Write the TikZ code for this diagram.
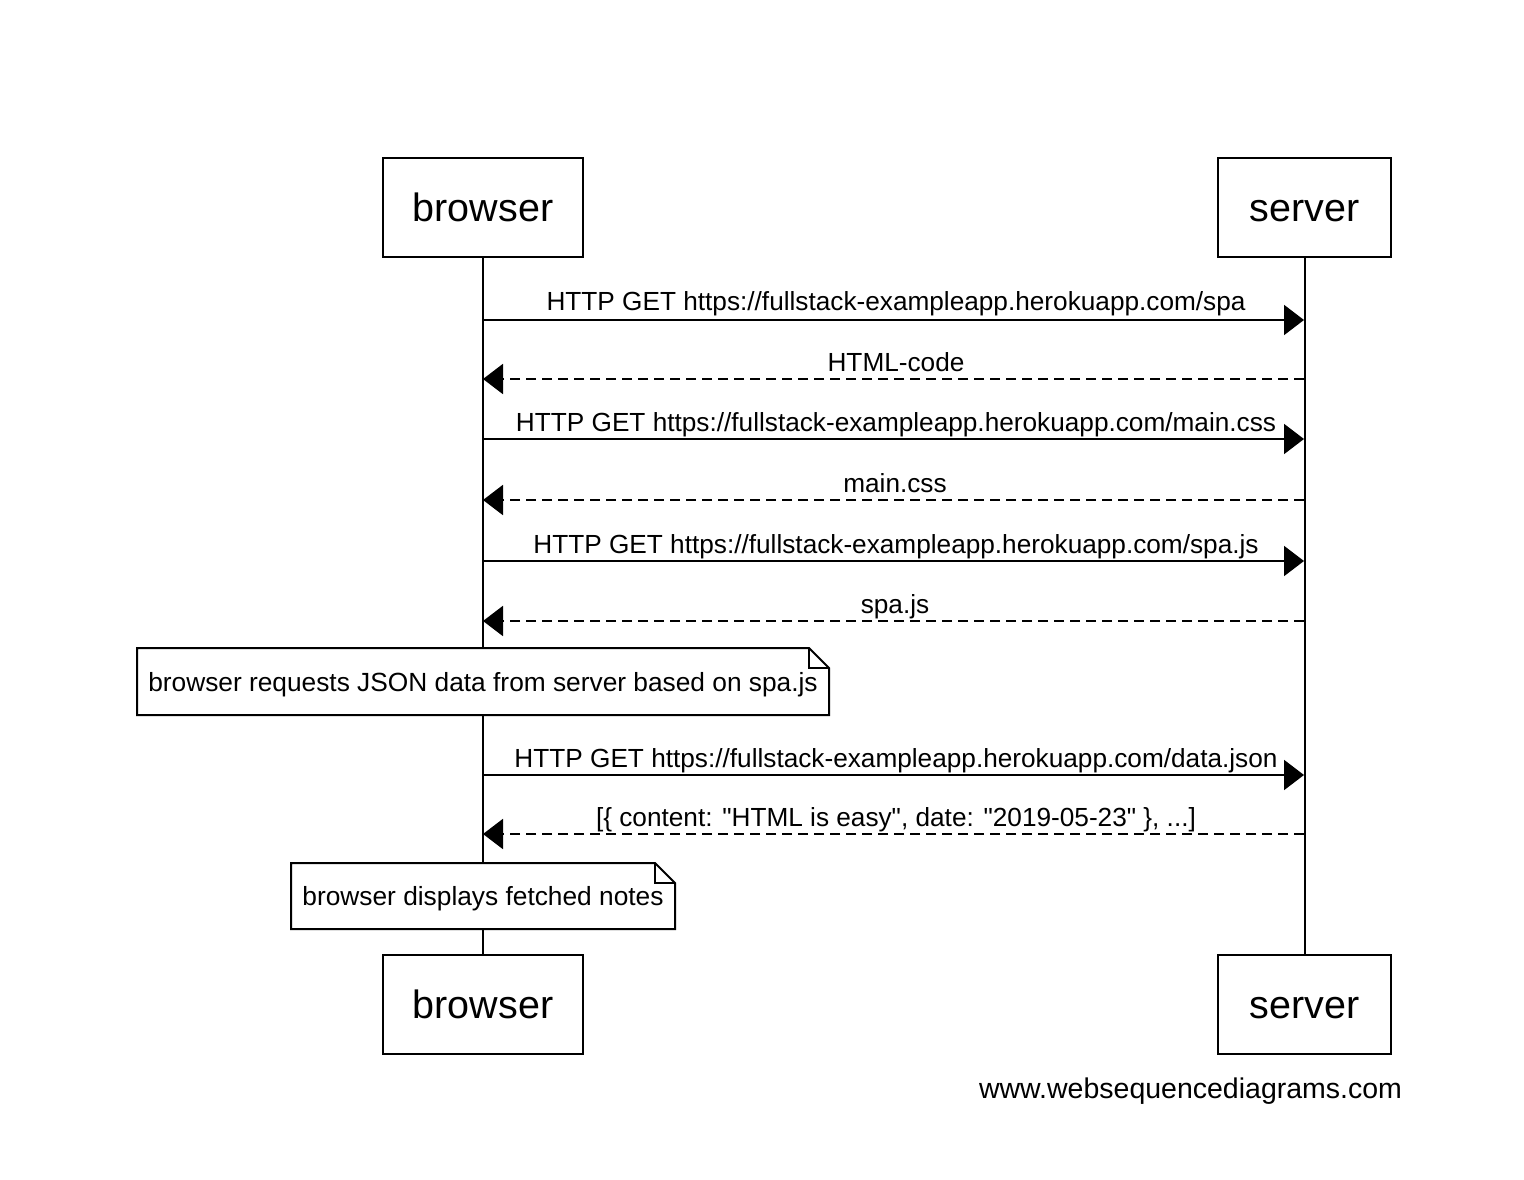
\documentclass[tikz,border=0pt]{standalone}
\usepackage{fontspec}
\setmainfont{Liberation Sans}
\usetikzlibrary{arrows.meta}
\begin{document}
\begin{tikzpicture}[x=1pt,y=-1pt,
  every node/.style={inner sep=0pt, outer sep=0pt},
  actor/.style={draw, line width=2pt, minimum height=99pt, text height=29pt, text depth=0pt,
    font=\fontsize{39.5}{45}\selectfont},
  life/.style={line width=2pt},
  msg/.style={line width=2pt, -{Triangle[length=20pt,width=30pt]}},
  reply/.style={msg, dash pattern=on 10pt off 6pt},
  lbl/.style={anchor=base, font=\fontsize{26.2}{30}\selectfont},
  notebox/.style={fill=white, text height=19pt, text depth=0pt, font=\fontsize{26.3}{30}\selectfont},
  notedraw/.style={line width=2pt, line join=miter}]
\useasboundingbox (0,0) rectangle (1524,1180);

% participants, top and bottom
\node[actor, minimum width=200pt] (bt) at (483,207.5) {browser};
\node[actor, minimum width=173pt] (st) at (1304.5,207.5) {server};
\node[actor, minimum width=200pt] (bb) at (483,1004) {browser};
\node[actor, minimum width=173pt] (sb) at (1304.5,1004) {server};

% lifelines
\draw[life] (bt.south) -- (bb.north);
\draw[life] (st.south) -- (sb.north);

% message anchor points on each lifeline
\foreach \i/\y in {1/320,2/379,3/439,4/500,5/561,6/621,7/775,8/834} {
  \coordinate (b\i) at (483,\y);
  \coordinate (s\i) at (1304,\y);
}

% requests and responses
\draw[msg] (b1) -- (s1);
\node[lbl] (l1) at (896,310) {HTTP GET https://fullstack-exampleapp.herokuapp.com/spa};
\draw[reply] (s2) -- (b2);
\node[lbl] (l2) at (896,371) {HTML-code};
\draw[msg] (b3) -- (s3);
\node[lbl] (l3) at (896,431) {HTTP GET https://fullstack-exampleapp.herokuapp.com/main.css};
\draw[reply] (s4) -- (b4);
\node[lbl] (l4) at (895,492) {main.css};
\draw[msg] (b5) -- (s5);
\node[lbl] (l5) at (896,553) {HTTP GET https://fullstack-exampleapp.herokuapp.com/spa.js};
\draw[reply] (s6) -- (b6);
\node[lbl] (l6) at (895,613) {spa.js};

% first note
\node[notebox, minimum width=692pt, minimum height=67pt] (n1) at (483,681.5)
  {browser requests JSON data from server based on spa.js};
\draw[notedraw] (n1.north west) -- ([xshift=-20pt]n1.north east) -- ([yshift=-20pt]n1.north east)
  -- (n1.south east) -- (n1.south west) -- cycle;
\draw[notedraw] ([xshift=-20pt]n1.north east) -- ([xshift=-20pt,yshift=-20pt]n1.north east)
  -- ([yshift=-20pt]n1.north east);

\draw[msg] (b7) -- (s7);
\node[lbl] (l7) at (896,767) {HTTP GET https://fullstack-exampleapp.herokuapp.com/data.json};
\draw[reply] (s8) -- (b8);
\node[lbl] (l8) at (896,826) {[\{ content: \textquotedbl HTML is easy\textquotedbl, date: \textquotedbl 2019-05-23\textquotedbl\ \}, ...]};

% second note
\node[notebox, minimum width=384pt, minimum height=66pt] (n2) at (483,896)
  {browser displays fetched notes};
\draw[notedraw] (n2.north west) -- ([xshift=-20pt]n2.north east) -- ([yshift=-20pt]n2.north east)
  -- (n2.south east) -- (n2.south west) -- cycle;
\draw[notedraw] ([xshift=-20pt]n2.north east) -- ([xshift=-20pt,yshift=-20pt]n2.north east)
  -- ([yshift=-20pt]n2.north east);

% footer
\node[anchor=base east, font=\fontsize{28.5}{32}\selectfont] (web) at (1402,1098) {www.websequencediagrams.com};
\end{tikzpicture}
\end{document}
